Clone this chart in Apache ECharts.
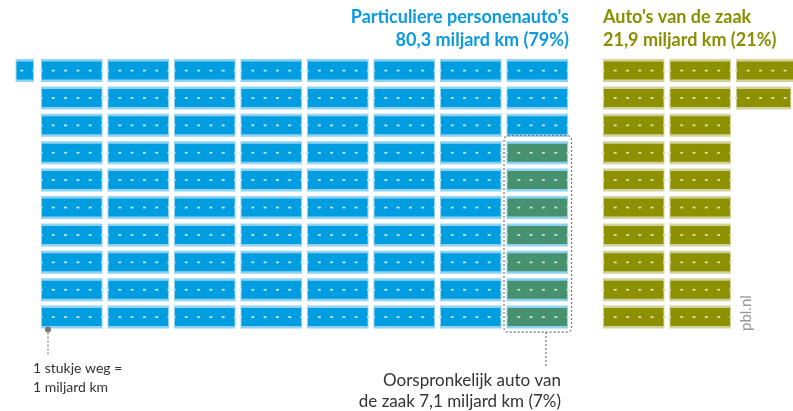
<!DOCTYPE html>
<html>
<head>
<meta charset="utf-8">
<script src="https://cdn.jsdelivr.net/npm/echarts@6/dist/echarts.min.js"></script>
<style>
html, body { margin: 0; padding: 0; background: #fff; }
#chart { width: 793px; height: 411px; }
</style>
</head>
<body>
<div id="chart"></div>
<script>
var groups = ["Particuliere personenauto's", "Auto's van de zaak"];
var totals = [80.3, 21.9];
var shares = [79, 21];
// pieces of road per row (1 piece = 1 miljard km)
var blueRows = [8.3, 8, 8, 8, 8, 8, 8, 8, 8, 8];
var zaakRows = [3, 2.9, 2, 2, 2, 2, 2, 2, 2, 2];
// pieces per row that were originally company cars (right end of blue rows)
var origRows = [0, 0, 0, 1, 1, 1, 1, 1, 1, 1];
var origTotal = 7.1;
var origShare = 7;

var PIECE = 0.925;     // piece width as part of one column step
var PIECE_H = 0.84;    // piece height as part of one row step
var ZAAK_START = 8.45; // first column of the company car block

var kinds = [
  { edge: "#8fd3f3", fill: "#009ee0", dash: "#c6ebfb" },
  { edge: "#d2d39c", fill: "#8d9100", dash: "#e2e3bd" },
  { edge: "#8fd3f3", fill: "#47916f", dash: "#cbe3d7" }
];

function fmt(v) {
  return String(v).replace(".", ",");
}

var pieces = [];
blueRows.forEach(function (n, r) {
  var full = Math.floor(n + 1e-9);
  var part = n - full;
  for (var c = 0; c < full; c++) {
    pieces.push([c, r, 1, c >= full - origRows[r] ? 2 : 0, 0]);
  }
  if (part > 0.01) {
    pieces.push([-(1 - PIECE) - part * PIECE - 0.03, r, part, 0, 1]);
  }
});
zaakRows.forEach(function (n, r) {
  var full = Math.floor(n + 1e-9);
  var part = n - full;
  for (var c = 0; c < full; c++) {
    pieces.push([ZAAK_START + c, r, 1, 1, 0]);
  }
  if (part > 0.01) {
    pieces.push([ZAAK_START + full, r, part, 1, 0]);
  }
});

// dashed box round the original company car pieces
var firstOrig = origRows.indexOf(1);
var lastOrig = origRows.lastIndexOf(1);
var origCol = Math.floor(blueRows[lastOrig]) - 1;
var notes = [[origCol, firstOrig, lastOrig, 0], [0, blueRows.length - 1, 0, 1]];

function renderPiece(params, api) {
  var k = kinds[api.value(3)];
  var p0 = api.coord([api.value(0), api.value(1)]);
  var step = api.size([1, 1]);
  var w = api.value(2) * PIECE * Math.abs(step[0]);
  var h = PIECE_H * Math.abs(step[1]);
  var children = [
    { type: "rect", shape: { x: p0[0], y: p0[1], width: w, height: h }, style: { fill: k.edge } },
    { type: "rect", shape: { x: p0[0] + 1, y: p0[1] + 2.5, width: w - 2, height: h - 5 }, style: { fill: k.fill } }
  ];
  var period = PIECE * Math.abs(step[0]) / 5;
  var midY = p0[1] + h / 2;
  for (var i = 0; i <= 5; i++) {
    var dx = api.value(4) ? p0[0] + w - i * period : p0[0] + i * period;
    if (dx < p0[0] - 1 || dx > p0[0] + w + 1) continue;
    children.push({
      type: "rect",
      shape: { x: dx - 1.5, y: midY - 0.8, width: 3, height: 1.7 },
      style: { fill: k.dash }
    });
  }
  return { type: "group", children: children };
}

function renderNote(params, api) {
  var dotted = { stroke: "#777", lineWidth: 1.2, lineDash: [2, 2], fill: null };
  if (api.value(3) === 0) {
    var a = api.coord([api.value(0), api.value(1)]);
    var b = api.coord([api.value(0) + PIECE, api.value(2) + PIECE_H]);
    var lx = a[0] + (b[0] - a[0]) * 0.64;
    return {
      type: "group",
      children: [
        { type: "rect", shape: { x: a[0] - 2.5, y: a[1] - 5.5, width: b[0] - a[0] + 6, height: b[1] - a[1] + 9, r: 4 }, style: dotted },
        { type: "line", shape: { x1: lx, y1: b[1] + 3.5, x2: lx, y2: b[1] + 38 }, style: dotted }
      ]
    };
  }
  var p = api.coord([api.value(0), api.value(1) + PIECE_H]);
  return {
    type: "group",
    children: [
      { type: "circle", shape: { cx: p[0] + 7, cy: p[1] + 1, r: 3 }, style: { fill: "#777" } },
      { type: "line", shape: { x1: p[0] + 7, y1: p[1] + 4, x2: p[0] + 7, y2: p[1] + 26 }, style: dotted }
    ]
  };
}

var myChart = echarts.init(document.getElementById("chart"));
var titleFont = "Lato";
var textFont = "Lato";

myChart.setOption({
  animation: false,
  grid: { left: 1.1, top: 59, width: 11.9 * 66.5, height: 274 },
  xAxis: { type: "value", min: -0.6, max: 11.3, show: false },
  yAxis: { type: "value", min: 0, max: 10, inverse: true, show: false },
  graphic: [
    { type: "text", x: 569, y: 6, style: { text: groups[0] + "\n" + fmt(totals[0]) + " miljard km (" + shares[0] + "%)", align: "right", verticalAlign: "top", fill: "#0a9ae0", font: "bold 18px " + titleFont, lineHeight: 23 } },
    { type: "text", x: 603, y: 6, style: { text: groups[1] + "\n" + fmt(totals[1]) + " miljard km (" + shares[1] + "%)", align: "left", verticalAlign: "top", fill: "#8a8f00", font: "bold 18px " + titleFont, lineHeight: 23 } },
    { type: "text", x: 561, y: 370, style: { text: "Oorspronkelijk auto van\nde zaak " + fmt(origTotal) + " miljard km (" + origShare + "%)", align: "right", verticalAlign: "top", fill: "#333", font: "17px " + textFont, lineHeight: 21 } },
    { type: "text", x: 33, y: 359, style: { text: "1 stukje weg =\n1 miljard km", verticalAlign: "top", fill: "#333", font: "14px " + textFont, lineHeight: 19 } },
    { type: "text", x: 739, y: 331, rotation: Math.PI / 2, style: { text: "pbl.nl", fill: "#999", font: "15px " + textFont } }
  ],
  series: [
    { type: "custom", renderItem: renderPiece, data: pieces, silent: true },
    { type: "custom", renderItem: renderNote, data: notes, silent: true }
  ]
});
</script>
</body>
</html>
